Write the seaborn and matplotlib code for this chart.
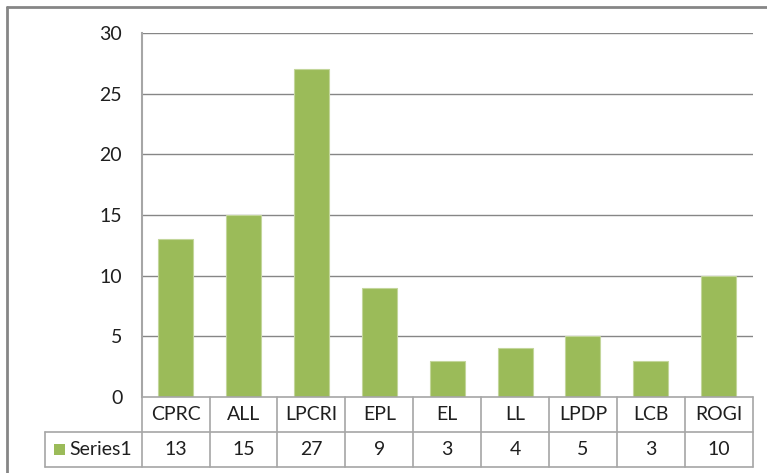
import matplotlib
matplotlib.use("Agg")
import matplotlib.pyplot as plt
import matplotlib.transforms as mtransforms
from matplotlib.patches import Rectangle
import seaborn as sns
import pandas as pd

categories = ["CPRC", "ALL", "LPCRI", "EPL", "EL", "LL", "LPDP", "LCB", "ROGI"]
values = [13, 15, 27, 9, 3, 4, 5, 3, 10]
series_name = "Series1"
yticks = [0, 5, 10, 15, 20, 25, 30]

BAR = "#9BBB59"
GRID = "#868686"
TXT = "#1F1F1F"
FS = 14

sns.set_theme(style="white")
plt.rcParams["font.family"] = ["Lato", "DejaVu Sans"]

W, H = 767, 473
fig = plt.figure(figsize=(W / 100, H / 100), dpi=100)

# axes in pixel layout
L, R, T, B = 141.7, 752.7, 33.0, 397.0
ax = fig.add_axes([L / W, 1 - B / H, (R - L) / W, (B - T) / H])

df = pd.DataFrame({"cat": categories, "val": values})
sns.barplot(data=df, x="cat", y="val", color=BAR, width=0.515, ax=ax,
            saturation=1, edgecolor="#C3D69B", linewidth=0.8, zorder=3)

ax.set_ylim(0, 30)
ax.set_xlim(-0.5, len(categories) - 0.5)
ax.set_yticks(yticks)
ax.set_yticklabels([str(t) for t in yticks], fontsize=FS, color=TXT)
ax.tick_params(axis="y", length=0, pad=14)
ax.set_xticks([])
ax.set_xlabel("")
ax.set_ylabel("")
for t in yticks[1:]:
    ax.axhline(t, color=GRID, lw=1.0, zorder=1)
for s in ["top", "right", "bottom"]:
    ax.spines[s].set_visible(False)
ax.spines["left"].set_color("#A6A6A6")
ax.spines["left"].set_linewidth(1.5)

# data table below the axes (x in data, y in figure pixels from top)
def fy(py):
    return 1 - py / H

tr = mtransforms.blended_transform_factory(ax.transData, fig.transFigure)
row1_top, row_mid, row_bot = 397.0, 432.0, 466.5
n = len(categories)
lc = "#A6A6A6"
xleft_data = -0.5 - (L - 45.0) / ((R - L) / n)

# horizontal lines
fig.add_artist(plt.Line2D([-0.5, n - 0.5], [fy(row1_top), fy(row1_top)], transform=tr, color=lc, lw=1.2))
fig.add_artist(plt.Line2D([xleft_data, n - 0.5], [fy(row_mid), fy(row_mid)], transform=tr, color=lc, lw=1.2))
fig.add_artist(plt.Line2D([xleft_data, n - 0.5], [fy(row_bot), fy(row_bot)], transform=tr, color=lc, lw=1.2))
# vertical lines
for i in range(n + 1):
    fig.add_artist(plt.Line2D([i - 0.5, i - 0.5], [fy(row1_top), fy(row_bot)], transform=tr, color=lc, lw=1.2))
fig.add_artist(plt.Line2D([xleft_data, xleft_data], [fy(row_mid), fy(row_bot)], transform=tr, color=lc, lw=1.2))

for i, (c, v) in enumerate(zip(categories, values)):
    fig.text(i, fy((row1_top + row_mid) / 2), c, transform=tr, ha="center", va="center",
             fontsize=FS, color=TXT)
    fig.text(i, fy((row_mid + row_bot) / 2), str(v), transform=tr, ha="center", va="center",
             fontsize=FS, color=TXT)

# legend key + series name
fig.add_artist(Rectangle((53.5 / W, fy(455.0)), 11 / W, 11 / H, transform=fig.transFigure,
                         facecolor=BAR, edgecolor="none"))
fig.text(69.0 / W, fy((row_mid + row_bot) / 2), series_name, ha="left", va="center",
         fontsize=FS, color=TXT)

# outer chart frame (partially visible)
fig.add_artist(plt.Line2D([6.5 / W, 1.0], [fy(7.5), fy(7.5)], transform=fig.transFigure,
                          color="#868686", lw=2.0))
fig.add_artist(plt.Line2D([6.5 / W, 6.5 / W], [fy(7.5), 0.0], transform=fig.transFigure,
                          color="#868686", lw=2.0))

fig.savefig("out.png", dpi=100)
